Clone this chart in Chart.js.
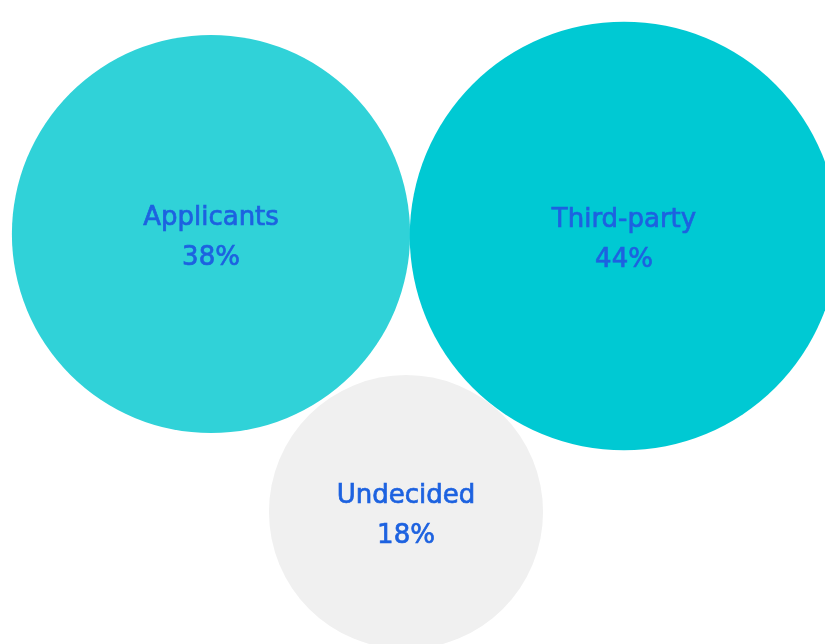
<!DOCTYPE html>
<html lang="en">
<head>
<meta charset="UTF-8">
<title>Who pays</title>
<script src="https://cdn.jsdelivr.net/npm/chart.js"></script>
<style>
    html, body { margin: 0; padding: 0; background: #ffffff; }
    #chartBox { width: 825px; height: 644px; }
</style>
</head>
<body>
<div id="chartBox">
    <canvas id="shareChart" width="825" height="644"></canvas>
</div>
<script>
// shares in percent
const groups = ['Applicants', 'Third-party', 'Undecided'];
const shares = [38, 44, 18];
// bubble layout positions (chart units)
const posX = [211, 624, 406];
const posY = [234, 236, 512];
const fills = ['#30d2d8', '#00c9d3', '#f0f0f0'];

// bubble area follows the share
const radiusFor = pct => 32.3 * Math.sqrt(pct);

const bubbleLabels = {
    id: 'bubbleLabels',
    afterDatasetsDraw(chart) {
        const ctx = chart.ctx;
        const meta = chart.getDatasetMeta(0);
        ctx.save();
        ctx.textAlign = 'center';
        ctx.textBaseline = 'middle';
        ctx.fillStyle = '#1d62e0';
        ctx.strokeStyle = '#1d62e0';
        ctx.lineWidth = 0.7;
        ctx.font = '26px "DejaVu Sans", sans-serif';
        meta.data.forEach((pt, i) => {
            const lines = [groups[i], shares[i] + '%'];
            lines.forEach((txt, j) => {
                const y = pt.y - 16 + j * 40;
                ctx.fillText(txt, pt.x, y);
                ctx.strokeText(txt, pt.x, y);
            });
        });
        ctx.restore();
    }
};

new Chart(document.getElementById('shareChart'), {
    type: 'bubble',
    data: {
        labels: groups,
        datasets: [{
            data: groups.map((g, i) => ({ x: posX[i], y: posY[i], r: radiusFor(shares[i]) })),
            backgroundColor: fills,
            borderWidth: 0,
            hoverBorderWidth: 0,
            clip: false
        }]
    },
    options: {
        responsive: false,
        animation: false,
        events: [],
        layout: { padding: 0, autoPadding: false },
        plugins: { legend: { display: false }, tooltip: { enabled: false } },
        scales: {
            x: { type: 'linear', min: 0, max: 825, display: false },
            y: { type: 'linear', min: 0, max: 644, reverse: true, display: false }
        }
    },
    plugins: [bubbleLabels]
});
</script>
</body>
</html>
